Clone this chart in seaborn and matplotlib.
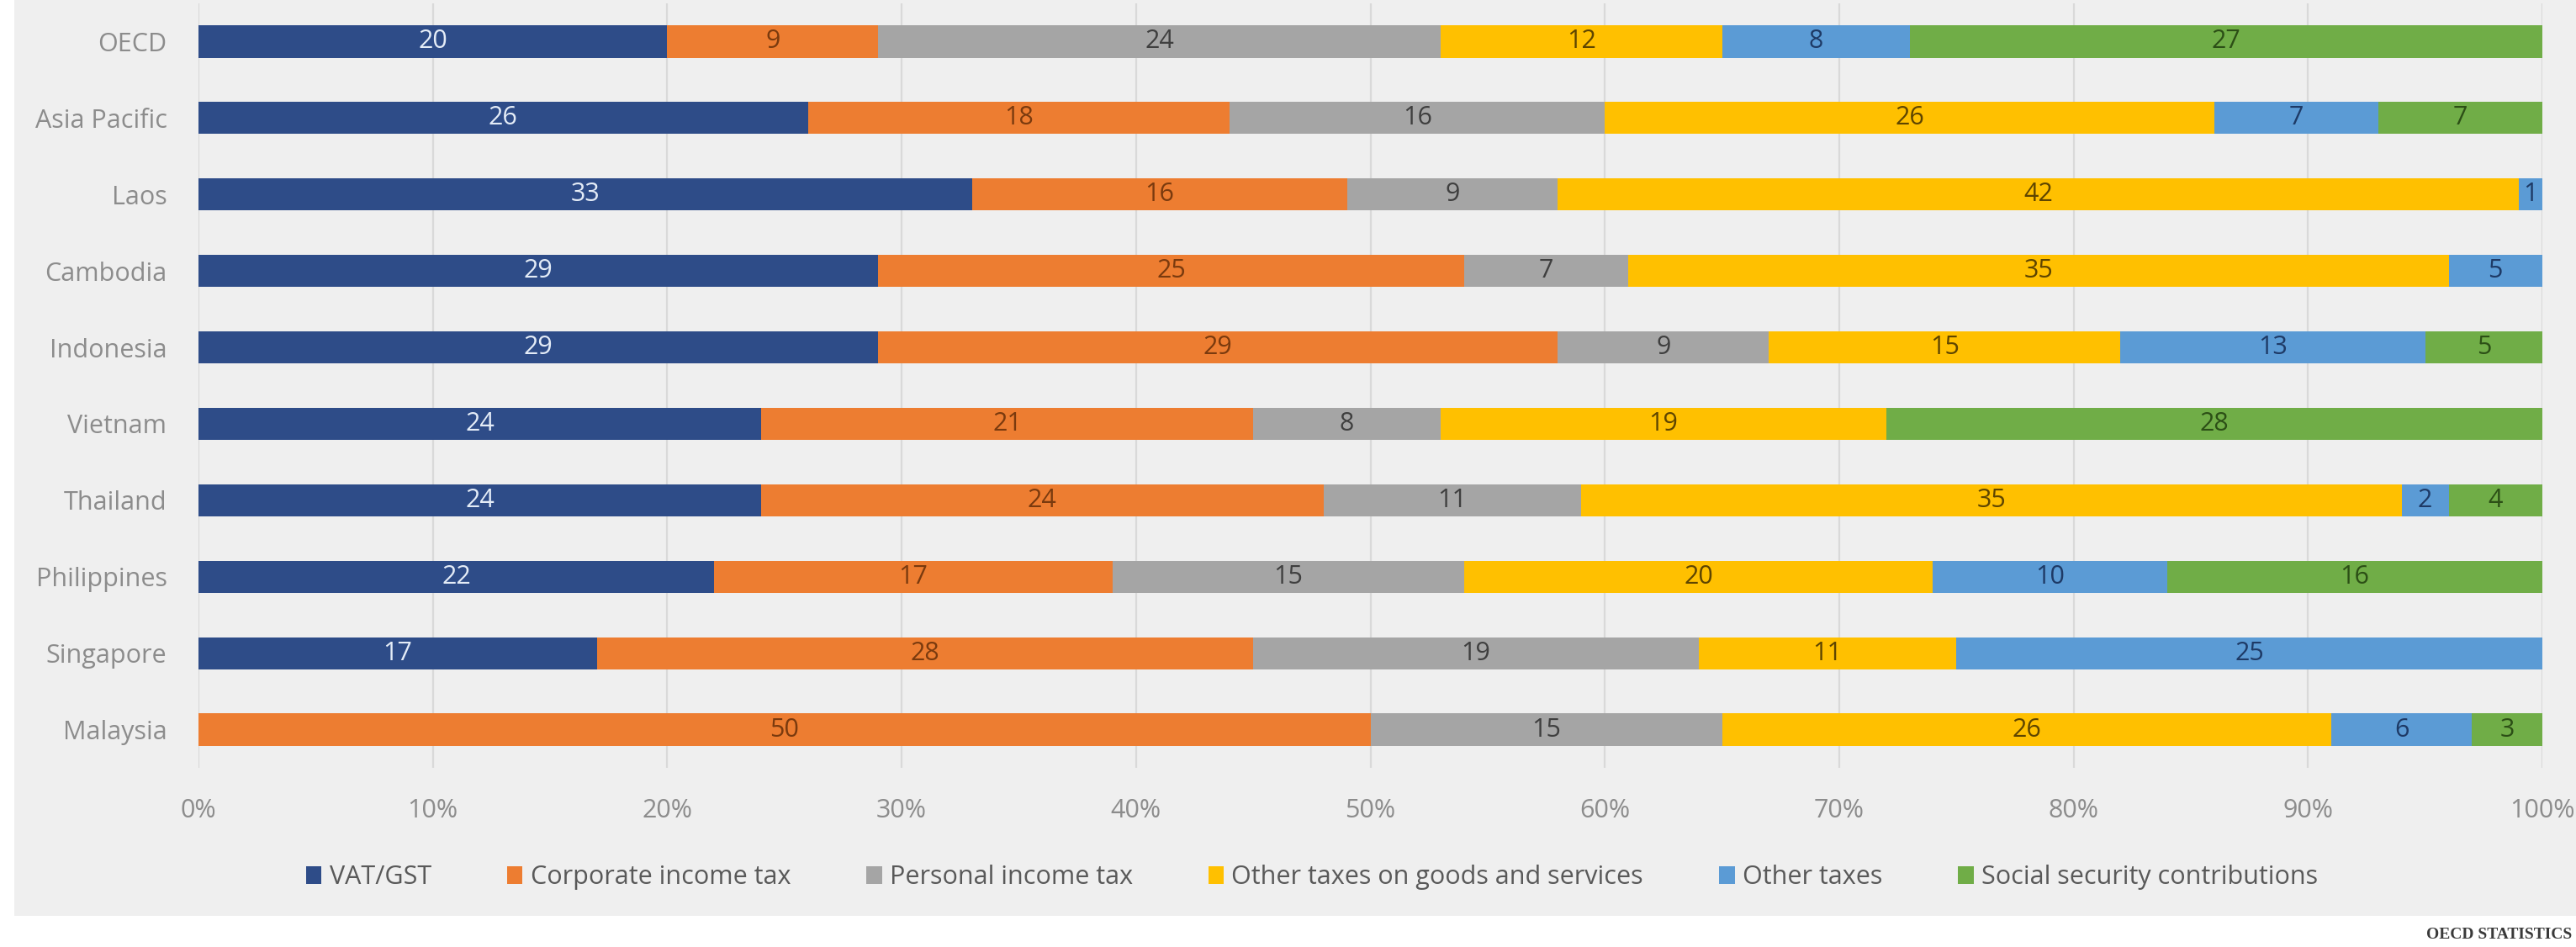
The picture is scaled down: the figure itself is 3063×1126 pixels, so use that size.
import numpy as np
import pandas as pd
import matplotlib
matplotlib.use("Agg")
import matplotlib.pyplot as plt
from matplotlib.patches import Patch, Rectangle
import seaborn as sns

countries = ["OECD", "Asia Pacific", "Laos", "Cambodia", "Indonesia", "Vietnam",
             "Thailand", "Philippines", "Singapore", "Malaysia"]
series_names = ["VAT/GST", "Corporate income tax", "Personal income tax",
                "Other taxes on goods and services", "Other taxes",
                "Social security contributions"]
# printed (rounded) shares, % of tax revenue
vat_gst = [20, 26, 33, 29, 29, 24, 24, 22, 17, 0]
corporate_income_tax = [9, 18, 16, 25, 29, 21, 24, 17, 28, 50]
personal_income_tax = [24, 16, 9, 7, 9, 8, 11, 15, 19, 15]
other_goods_services = [12, 26, 42, 35, 15, 19, 35, 20, 11, 26]
other_taxes = [8, 7, 1, 5, 13, 0, 2, 10, 25, 6]
social_security = [27, 7, 0, 0, 5, 28, 4, 16, 0, 3]
# bar lengths read off the picture where rounding makes the printed values not sum to 100
bar_overrides = {"Laos": [33, 16, 9, 41, 1, 0],
                 "Cambodia": [29, 25, 7, 35, 4, 0]}
x_tick_values = [0, 10, 20, 30, 40, 50, 60, 70, 80, 90, 100]

bar_colors = ["#2E4C88", "#ED7D31", "#A5A5A5", "#FFC000", "#5B9BD5", "#70AD47"]
label_colors = ["#E4ECF7", "#7A3A0E", "#3F3F3F", "#5E4500", "#1E3A66", "#2C4F16"]

sns.set_theme(style="white")
plt.rcParams["font.family"] = ["Open Sans", "DejaVu Sans"]

values = np.array([vat_gst, corporate_income_tax, personal_income_tax,
                   other_goods_services, other_taxes, social_security], dtype=float)
shares = values / values.sum(axis=0) * 100.0
for name, lens in bar_overrides.items():
    j = countries.index(name)
    shares[:, j] = np.array(lens, dtype=float) / sum(lens) * 100.0
cum = np.cumsum(shares, axis=0)

W, H = 3063, 1126
fig = plt.figure(figsize=(W / 100, H / 100), dpi=100)
fig.patch.set_facecolor("white")
fig.patches.append(Rectangle((17 / W, 1 - 1089 / H), 1 - 17 / W, 1089 / H,
                             transform=fig.transFigure, facecolor="#EFEFEF",
                             edgecolor="none", zorder=-5))

ax = fig.add_axes([236 / W, 1 - 913 / H, (3023 - 236) / W, (913 - 4) / H])
ax.set_facecolor("#EFEFEF")

# stacked bars: draw cumulative totals from the last series back to the first
for i in range(len(series_names) - 1, -1, -1):
    df = pd.DataFrame({"country": countries, "cum": cum[i]})
    sns.barplot(data=df, x="cum", y="country", orient="h", order=countries,
                color=bar_colors[i], width=0.42, linewidth=0, saturation=1,
                ax=ax, zorder=3)

# value labels
for i in range(len(series_names)):
    for j, c in enumerate(countries):
        v = values[i, j]
        if v <= 0:
            continue
        mid = cum[i, j] - shares[i, j] / 2.0
        ax.text(mid, j, f"{int(v)}", ha="center", va="center",
                fontsize=22, color=label_colors[i], zorder=5)

ax.set_xlim(0, 100)
ax.set_ylim(len(countries) - 0.5, -0.5)
ax.set_xticks(x_tick_values)
ax.set_xticklabels([f"{v}%" for v in x_tick_values])
ax.set_xlabel("")
ax.set_ylabel("")
ax.tick_params(axis="x", length=0, pad=26, labelsize=22, labelcolor="#8C8C8C")
ax.tick_params(axis="y", length=0, pad=27, labelsize=22, labelcolor="#8C8C8C")
ax.grid(axis="x", color="#D9D9D9", linewidth=1.6, zorder=0)
ax.grid(axis="y", visible=False)
ax.set_axisbelow(True)
for s in ax.spines.values():
    s.set_visible(False)

handles = [Patch(facecolor=bar_colors[i], edgecolor="none", label=series_names[i])
           for i in range(len(series_names))]
fig.legend(handles=handles, loc="center", bbox_to_anchor=(1560 / W, 1 - 1043 / H),
           ncol=6, frameon=False, fontsize=22, handlelength=0.6, handleheight=0.7,
           handletextpad=0.3, columnspacing=2.95, labelcolor="#595959")

fig.text(3058 / W, 1 - 1112 / H, "OECD STATISTICS", ha="right", va="center",
         fontsize=14, fontweight="bold", color="#3A3A3A",
         family=["Liberation Serif", "DejaVu Serif"])

fig.savefig("out.png", dpi=100, facecolor=fig.get_facecolor())
